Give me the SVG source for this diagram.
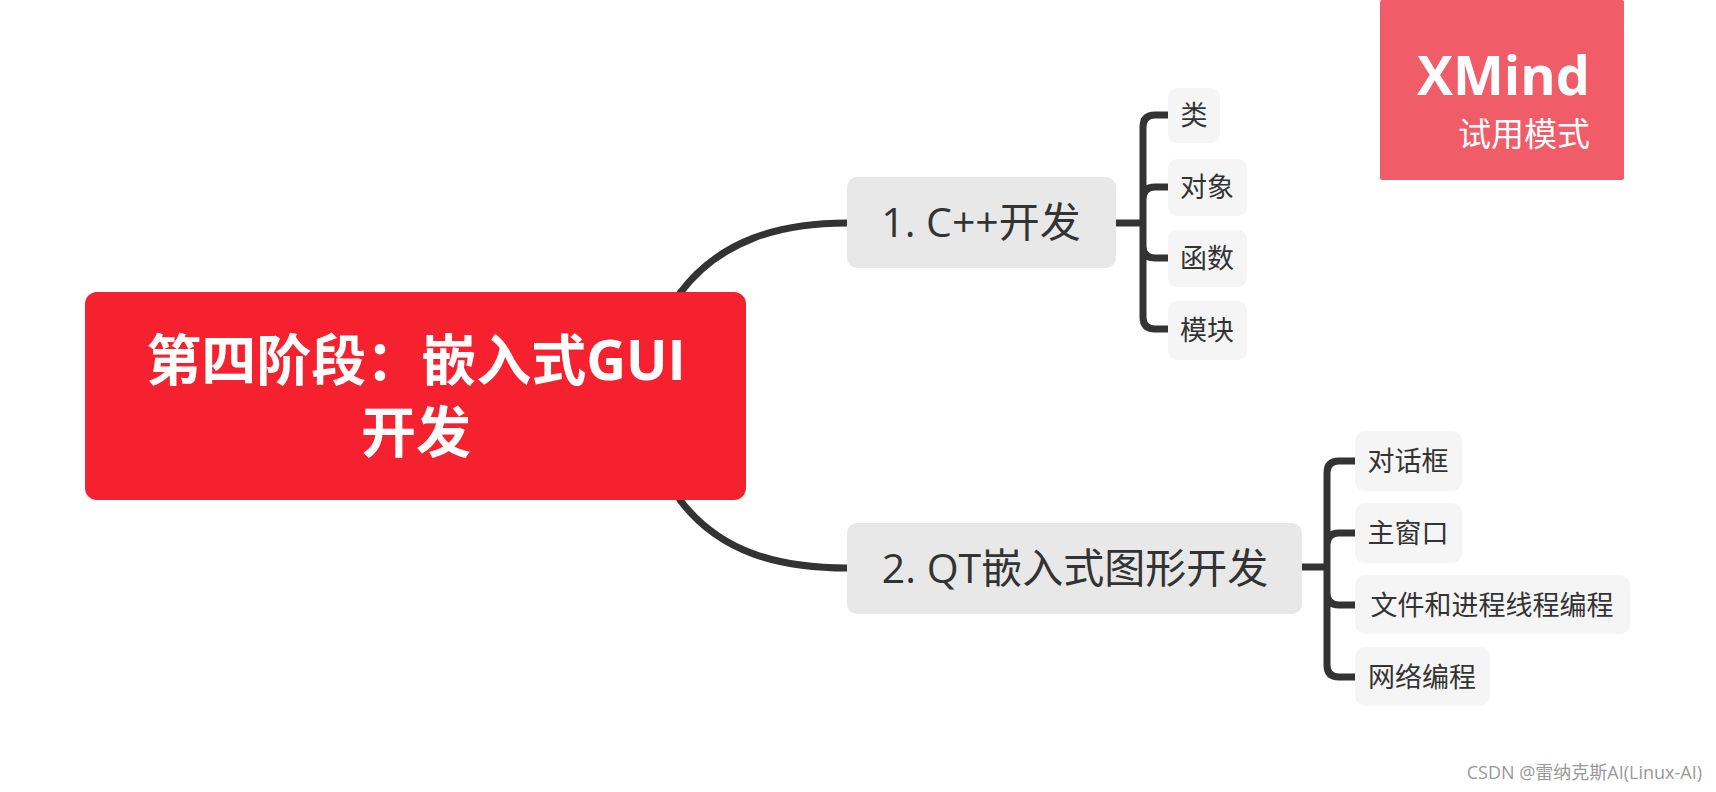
<svg xmlns="http://www.w3.org/2000/svg" width="1716" height="792" viewBox="0 0 1716 792">
<style>
text{font-family:"Open Sans","Noto Sans CJK SC",sans-serif;fill:#333}
.leaf rect{fill:#f5f5f5}
.leaf text{font-size:27px}
.main rect{fill:#e8e8e8}
.main text{font-size:41px}
.c{fill:none;stroke:#333;stroke-width:7;stroke-linecap:round}
</style>
<rect width="1716" height="792" fill="#fff"/>
<g id="connectors">
<path class="c" d="M680,293 C720,240 780,223 847,223"/>
<path class="c" d="M680,500 C720,553 780,568 847,568"/>
<path class="c" d="M1116,223 H1143 M1168,115 H1155 Q1143,115 1143,127 V317 Q1143,329 1155,329 H1168 M1143,199 Q1143,187 1155,187 H1168 M1143,246 Q1143,258 1155,258 H1168"/>
<path class="c" d="M1302,567 H1327 M1355,461 H1339 Q1327,461 1327,473 V665 Q1327,677 1339,677 H1355 M1327,545 Q1327,533 1339,533 H1355 M1327,593 Q1327,605 1339,605 H1355"/>
</g>
<g id="root"><rect x="85" y="292" width="661" height="208" rx="12" fill="#f6212e"/>
<text x="416" y="380" text-anchor="middle" font-size="55" font-weight="bold" style="fill:#fff">第四阶段：嵌入式GUI</text>
<text x="416" y="452" text-anchor="middle" font-size="55" font-weight="bold" style="fill:#fff">开发</text></g>
<g id="n1" class="main"><rect x="847" y="177" width="269" height="91" rx="10"/><text x="981" y="237" text-anchor="middle">1. C++开发</text></g>
<g id="n2" class="main"><rect x="847" y="523" width="455" height="91" rx="10"/><text x="1075" y="583" text-anchor="middle">2. QT嵌入式图形开发</text></g>
<g id="l1" class="leaf"><rect x="1168" y="88" width="52" height="55" rx="9"/><text x="1194" y="125" text-anchor="middle">类</text></g>
<g id="l2" class="leaf"><rect x="1168" y="159" width="79" height="57" rx="9"/><text x="1207" y="197" text-anchor="middle">对象</text></g>
<g id="l3" class="leaf"><rect x="1168" y="230" width="79" height="57" rx="9"/><text x="1207" y="268" text-anchor="middle">函数</text></g>
<g id="l4" class="leaf"><rect x="1168" y="301" width="79" height="59" rx="9"/><text x="1207" y="340" text-anchor="middle">模块</text></g>
<g id="l5" class="leaf"><rect x="1355" y="431" width="107" height="60" rx="10"/><text x="1408" y="471" text-anchor="middle">对话框</text></g>
<g id="l6" class="leaf"><rect x="1355" y="503" width="107" height="60" rx="10"/><text x="1408" y="543" text-anchor="middle">主窗口</text></g>
<g id="l7" class="leaf"><rect x="1355" y="575" width="275" height="59" rx="10"/><text x="1492" y="615" text-anchor="middle">文件和进程线程编程</text></g>
<g id="l8" class="leaf"><rect x="1355" y="647" width="135" height="59" rx="10"/><text x="1422" y="687" text-anchor="middle">网络编程</text></g>
<g id="xmind"><rect x="1380" y="0" width="244" height="180" rx="2" fill="#f05c67"/>
<text x="1590" y="95" text-anchor="end" font-size="54" font-weight="bold" style="fill:#fff">XMind</text>
<text x="1590" y="146" text-anchor="end" font-size="33" style="fill:#fff">试用模式</text></g>
<text x="1702" y="779" text-anchor="end" font-size="18" style="fill:#999">CSDN @雷纳克斯AI(Linux-AI)</text>
</svg>
